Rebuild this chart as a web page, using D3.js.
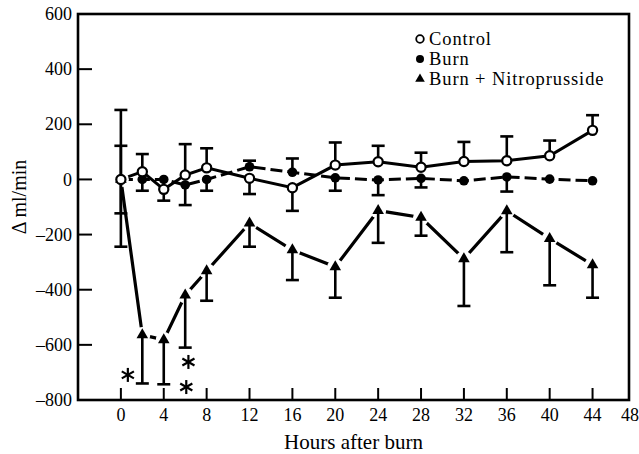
<!DOCTYPE html>
<html>
<head>
<meta charset="utf-8">
<script src="https://cdn.jsdelivr.net/npm/d3@7"></script>
<style>
  html, body { margin: 0; padding: 0; background: #fff; }
  svg { display: block; }
  text { font-family: "Liberation Serif", "Times New Roman", serif; fill: #000; }
</style>
</head>
<body>
<svg id="chart" width="639" height="454"></svg>
<script>
// ---- data ----
const hours = [0, 2, 4, 6, 8, 12, 16, 20, 24, 28, 32, 36, 40, 44];

const control   = [0, 28, -36, 16, 42, 4, -30, 52, 64, 44, 65, 68, 86, 178];
const controlHi = [null, 92, null, 128, 113, null, null, 134, 122, 97, 136, 156, 141, 233];
const controlLo = [null, null, -77, null, null, -53, -114, null, null, null, null, null, null, null];

const burn   = [0, 0, 0, -20, 0, 46, 26, 6, -2, 4, -5, 9, 1, -5];
const burnHi = [122, null, null, null, null, 68, 76, null, null, null, null, null, null, null];
const burnLo = [-123, -41, null, -93, -41, null, null, -41, -57, -29, null, -44, null, null];

const nitro   = [0, -564, -582, -420, -332, -159, -256, -317, -113, -138, -288, -114, -215, -310];
const nitroHi = [252, null, null, null, null, null, null, null, null, null, null, null, null, null];
const nitroLo = [-244, -740, -743, -610, -440, -244, -365, -429, -230, -204, -459, -264, -384, -429];

// significance asterisks (hour, value)
const starHours  = [0.65, 6.3, 6.1];
const starValues = [-709, -662, -753];

const xTicks = [0, 4, 8, 12, 16, 20, 24, 28, 32, 36, 40, 44, 48];
const yTicks = [-800, -600, -400, -200, 0, 200, 400, 600];

const legendLabels = ["Control", "Burn", "Burn + Nitroprusside"];

// ---- layout ----
const svg = d3.select("#chart");
const L = 78, R = 629, T = 14, B = 400;

const x = d3.scaleLinear().domain([-4, 47.4]).range([L, R]);
const y = d3.scaleLinear().domain([-800, 600]).range([B, T]);

// frame
svg.append("rect")
  .attr("x", L).attr("y", T).attr("width", R - L).attr("height", B - T)
  .attr("fill", "none").attr("stroke", "#000").attr("stroke-width", 2.6);

// y ticks (inward)
svg.append("g").selectAll("line").data(yTicks.filter(d => d > -800 && d < 600)).join("line")
  .attr("x1", L).attr("x2", L + 14)
  .attr("y1", d => y(d)).attr("y2", d => y(d))
  .attr("stroke", "#000").attr("stroke-width", 2);

svg.append("g").selectAll("text").data(yTicks).join("text")
  .attr("x", 72).attr("y", d => y(d))
  .attr("dy", "0.34em")
  .attr("text-anchor", "end")
  .attr("font-size", 18)
  .text(d => d < 0 ? "\u2013" + Math.abs(d) : String(d));

// x ticks (inward)
svg.append("g").selectAll("line").data(xTicks.filter(d => x(d) < R - 2)).join("line")
  .attr("x1", d => x(d)).attr("x2", d => x(d))
  .attr("y1", B).attr("y2", B - 12)
  .attr("stroke", "#000").attr("stroke-width", 2);

svg.append("g").selectAll("text").data(xTicks).join("text")
  .attr("x", d => Math.min(x(d), 630)).attr("y", 421)
  .attr("text-anchor", "middle")
  .attr("font-size", 18)
  .text(d => d);

// axis titles
svg.append("text")
  .attr("x", (L + R) / 2).attr("y", 449)
  .attr("text-anchor", "middle")
  .attr("font-size", 21)
  .text("Hours after burn");

svg.append("text")
  .attr("transform", `translate(26,197) rotate(-90)`)
  .attr("text-anchor", "middle")
  .attr("font-size", 20)
  .text("\u0394 ml/min");

// ---- series ----
const idx = d3.range(hours.length);
const mk = vals => d3.line().x(i => x(hours[i])).y(i => y(vals[i]));

const plot = svg.append("g");

plot.append("path").attr("d", mk(control)(idx))
  .attr("fill", "none").attr("stroke", "#000").attr("stroke-width", 3);

plot.append("path").attr("d", mk(burn)(idx))
  .attr("fill", "none").attr("stroke", "#000").attr("stroke-width", 3)
  .attr("stroke-dasharray", "12,5");

plot.append("path").attr("d", mk(nitro)(idx))
  .attr("fill", "none").attr("stroke", "#000").attr("stroke-width", 3.2);

// white gaps around triangles
plot.append("g").selectAll("circle").data(idx).join("circle")
  .attr("cx", i => x(hours[i])).attr("cy", i => y(nitro[i]))
  .attr("r", 8).attr("fill", "#fff");

// error bars
function errorBars(vals, caps) {
  const data = idx.filter(i => caps[i] !== null);
  const g = plot.append("g").attr("stroke", "#000").attr("stroke-width", 2.6);
  g.selectAll("line.v").data(data).join("line")
    .attr("class", "v")
    .attr("x1", i => x(hours[i])).attr("x2", i => x(hours[i]))
    .attr("y1", i => y(vals[i])).attr("y2", i => y(caps[i]));
  g.selectAll("line.c").data(data).join("line")
    .attr("class", "c")
    .attr("x1", i => x(hours[i]) - 6.5).attr("x2", i => x(hours[i]) + 6.5)
    .attr("y1", i => y(caps[i])).attr("y2", i => y(caps[i]));
}
errorBars(nitro, nitroHi);
errorBars(nitro, nitroLo);
errorBars(burn, burnHi);
errorBars(burn, burnLo);
errorBars(control, controlHi);
errorBars(control, controlLo);

// markers
const tri = d3.symbol().type(d3.symbolTriangle).size(58);
plot.append("g").selectAll("path").data(idx).join("path")
  .attr("transform", i => `translate(${x(hours[i])},${y(nitro[i])})`)
  .attr("d", tri).attr("fill", "#000");

plot.append("g").selectAll("circle").data(idx).join("circle")
  .attr("cx", i => x(hours[i])).attr("cy", i => y(burn[i]))
  .attr("r", 4.8).attr("fill", "#000");

plot.append("g").selectAll("circle").data(idx).join("circle")
  .attr("cx", i => x(hours[i])).attr("cy", i => y(control[i]))
  .attr("r", 4.6).attr("fill", "#fff").attr("stroke", "#000").attr("stroke-width", 2.2);

// asterisks
const starG = svg.append("g").attr("stroke", "#000").attr("stroke-width", 2.2).attr("stroke-linecap", "butt");
starHours.forEach((h, k) => {
  const cx = x(h), cy = y(starValues[k]), r = 7;
  [90, 30, -30].forEach(a => {
    const rad = a * Math.PI / 180;
    starG.append("line")
      .attr("x1", cx - r * Math.cos(rad)).attr("y1", cy - r * Math.sin(rad))
      .attr("x2", cx + r * Math.cos(rad)).attr("y2", cy + r * Math.sin(rad));
  });
});

// legend
const lg = svg.append("g");
const lx = 420, ly0 = 45, ldy = 20;
legendLabels.forEach((lab, k) => {
  const base = ly0 + k * ldy;
  const cy = base - 6;
  if (k === 0) {
    lg.append("circle").attr("cx", lx).attr("cy", cy).attr("r", 3.8)
      .attr("fill", "#fff").attr("stroke", "#000").attr("stroke-width", 1.8);
  } else if (k === 1) {
    lg.append("circle").attr("cx", lx).attr("cy", cy).attr("r", 4).attr("fill", "#000");
  } else {
    lg.append("path").attr("transform", `translate(${lx},${cy})`)
      .attr("d", d3.symbol().type(d3.symbolTriangle).size(40)).attr("fill", "#000");
  }
  lg.append("text").attr("x", lx + 9).attr("y", base)
    .attr("font-size", 18.5).attr("letter-spacing", 0.9).text(lab);
});
</script>
</body>
</html>
